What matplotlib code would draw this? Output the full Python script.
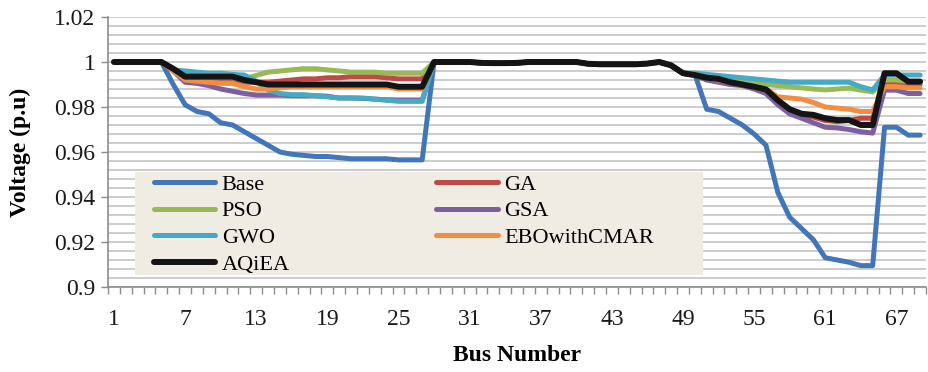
import matplotlib
matplotlib.use("Agg")
import matplotlib.pyplot as plt
from matplotlib.patches import Rectangle
from matplotlib.ticker import FixedLocator, MultipleLocator

buses = list(range(1, 70))

base = [1.0, 1.0, 1.0, 1.0, 1.0, 0.990, 0.981, 0.978, 0.977, 0.973,
        0.972, 0.969, 0.966, 0.963, 0.960, 0.959, 0.9585, 0.958, 0.958, 0.9575,
        0.957, 0.957, 0.957, 0.957, 0.9565, 0.9565, 0.9565, 1.0, 1.0, 1.0,
        1.0, 0.9996, 0.9995, 0.9995, 0.9996, 1.0, 1.0, 1.0, 1.0, 1.0,
        0.9992, 0.999, 0.999, 0.999, 0.999, 0.9993, 1.0, 0.9985, 0.995, 0.9945,
        0.979, 0.978, 0.975, 0.972, 0.968, 0.963, 0.942, 0.931, 0.926, 0.921,
        0.913, 0.912, 0.911, 0.9095, 0.9095, 0.971, 0.971, 0.9675, 0.9675]

ga = [1.0, 1.0, 1.0, 1.0, 1.0, 0.997, 0.993, 0.9925, 0.992, 0.992,
      0.991, 0.991, 0.991, 0.991, 0.9915, 0.992, 0.9925, 0.9925, 0.993, 0.993,
      0.9935, 0.9935, 0.9935, 0.993, 0.9925, 0.9925, 0.9925, 1.0, 1.0, 1.0,
      1.0, 0.9996, 0.9995, 0.9995, 0.9996, 1.0, 1.0, 1.0, 1.0, 1.0,
      0.9992, 0.999, 0.999, 0.999, 0.999, 0.9993, 1.0, 0.9985, 0.995, 0.9942,
      0.993, 0.9925, 0.991, 0.990, 0.989, 0.9875, 0.982, 0.978, 0.9765, 0.9755,
      0.974, 0.9735, 0.974, 0.975, 0.975, 0.991, 0.991, 0.990, 0.990]

pso = [1.0, 1.0, 1.0, 1.0, 1.0, 0.997, 0.994, 0.9935, 0.993, 0.993,
       0.993, 0.9925, 0.994, 0.9955, 0.996, 0.9965, 0.997, 0.997, 0.9965, 0.996,
       0.9955, 0.9955, 0.9955, 0.995, 0.995, 0.995, 0.995, 1.0, 1.0, 1.0,
       1.0, 0.9996, 0.9995, 0.9995, 0.9996, 1.0, 1.0, 1.0, 1.0, 1.0,
       0.9992, 0.999, 0.999, 0.999, 0.999, 0.9993, 1.0, 0.9985, 0.995, 0.995,
       0.994, 0.9935, 0.993, 0.992, 0.991, 0.990, 0.9895, 0.989, 0.9885, 0.988,
       0.9876, 0.988, 0.9884, 0.9875, 0.9867, 0.992, 0.992, 0.9913, 0.9913]

gsa = [1.0, 1.0, 1.0, 1.0, 1.0, 0.996, 0.991, 0.9905, 0.9895, 0.988,
       0.987, 0.986, 0.9853, 0.9853, 0.9853, 0.985, 0.985, 0.985, 0.9848, 0.984,
       0.984, 0.9838, 0.9835, 0.9832, 0.983, 0.983, 0.983, 1.0, 1.0, 1.0,
       1.0, 0.9996, 0.9995, 0.9995, 0.9996, 1.0, 1.0, 1.0, 1.0, 1.0,
       0.9992, 0.999, 0.999, 0.999, 0.999, 0.9993, 1.0, 0.9985, 0.995, 0.994,
       0.992, 0.991, 0.990, 0.9895, 0.988, 0.986, 0.981, 0.977, 0.975, 0.973,
       0.971, 0.9707, 0.970, 0.969, 0.9684, 0.9875, 0.9875, 0.986, 0.986]

gwo = [1.0, 1.0, 1.0, 1.0, 1.0, 0.9965, 0.996, 0.9955, 0.995, 0.995,
       0.9945, 0.9942, 0.9915, 0.9875, 0.986, 0.9855, 0.9855, 0.985, 0.9845, 0.984,
       0.984, 0.984, 0.9835, 0.983, 0.9825, 0.9825, 0.9825, 1.0, 1.0, 1.0,
       1.0, 0.9996, 0.9995, 0.9995, 0.9996, 1.0, 1.0, 1.0, 1.0, 1.0,
       0.9992, 0.999, 0.999, 0.999, 0.999, 0.9993, 1.0, 0.9985, 0.995, 0.995,
       0.9945, 0.994, 0.9935, 0.993, 0.9925, 0.992, 0.9915, 0.991, 0.991, 0.991,
       0.991, 0.991, 0.991, 0.989, 0.9876, 0.9942, 0.9942, 0.9942, 0.9942]

ebo = [1.0, 1.0, 1.0, 1.0, 1.0, 0.996, 0.992, 0.9915, 0.991, 0.9905,
       0.9905, 0.989, 0.988, 0.988, 0.9885, 0.989, 0.989, 0.989, 0.989, 0.989,
       0.989, 0.989, 0.989, 0.989, 0.988, 0.988, 0.988, 1.0, 1.0, 1.0,
       1.0, 0.9996, 0.9995, 0.9995, 0.9996, 1.0, 1.0, 1.0, 1.0, 1.0,
       0.9992, 0.999, 0.999, 0.999, 0.999, 0.9993, 1.0, 0.9985, 0.995, 0.9942,
       0.993, 0.992, 0.991, 0.990, 0.989, 0.988, 0.9845, 0.984, 0.9835, 0.982,
       0.980, 0.9795, 0.979, 0.978, 0.978, 0.989, 0.989, 0.9885, 0.9885]

aqiea = [1.0, 1.0, 1.0, 1.0, 1.0, 0.997, 0.9935, 0.9935, 0.9935, 0.9935,
         0.9935, 0.992, 0.991, 0.990, 0.990, 0.990, 0.990, 0.990, 0.990, 0.990,
         0.990, 0.990, 0.990, 0.990, 0.989, 0.989, 0.989, 1.0, 1.0, 1.0,
         1.0, 0.9996, 0.9995, 0.9995, 0.9996, 1.0, 1.0, 1.0, 1.0, 1.0,
         0.9992, 0.999, 0.999, 0.999, 0.999, 0.9993, 1.0, 0.9985, 0.995, 0.9942,
         0.993, 0.9925, 0.991, 0.990, 0.989, 0.9878, 0.983, 0.979, 0.977, 0.9765,
         0.975, 0.9742, 0.9742, 0.972, 0.972, 0.995, 0.995, 0.9913, 0.9913]

series = [("Base", base, "#4376B8"),
          ("GA", ga, "#BE4B48"),
          ("PSO", pso, "#98B954"),
          ("GSA", gsa, "#7D5FA0"),
          ("GWO", gwo, "#46AAC5"),
          ("EBOwithCMAR", ebo, "#F38D40"),
          ("AQiEA", aqiea, "#141414")]

xtick_labels = [1, 7, 13, 19, 25, 31, 37, 43, 49, 55, 61, 67]
ytick_vals = [0.9, 0.92, 0.94, 0.96, 0.98, 1.0, 1.02]
ytick_text = ["0.9", "0.92", "0.94", "0.96", "0.98", "1", "1.02"]

plt.rcParams['font.family'] = ['Liberation Serif', 'DejaVu Serif']

fig = plt.figure(figsize=(9.29, 3.72), dpi=100)
ax = fig.add_axes([0.1163, 0.2285, 0.8805, 0.7258])

lines = {}
for name, vals, col in series:
    lw = 4.3 if name == "AQiEA" else 3.6
    ln, = ax.plot(buses, vals, color=col, lw=lw, solid_joinstyle='round',
                  solid_capstyle='round', zorder=3)
    lines[name] = ln

ax.set_xlim(0.5, 69.5)
ax.set_ylim(0.9, 1.02)

# grid every 0.004, labels every 0.02
ax.yaxis.set_major_locator(FixedLocator(ytick_vals))
ax.set_yticklabels(ytick_text)
ax.yaxis.set_minor_locator(MultipleLocator(0.004))
ax.grid(True, which='both', axis='y', color='#C8C8C8', lw=1.3, zorder=0)
ax.tick_params(axis='y', which='major', direction='out', length=5, width=1,
               color='#8C8C8C', labelsize=17, pad=4, labelcolor='#1a1a1a')
ax.tick_params(axis='y', which='minor', length=0)

ax.xaxis.set_major_locator(FixedLocator(xtick_labels))
ax.xaxis.set_minor_locator(MultipleLocator(1, offset=0.5))
ax.tick_params(axis='x', which='major', length=0, labelsize=17, pad=16,
               labelcolor='#1a1a1a')
ax.tick_params(axis='x', which='minor', direction='out', length=5, width=1,
               color='#8C8C8C')

for s in ['top', 'right']:
    ax.spines[s].set_visible(False)
for s in ['left', 'bottom']:
    ax.spines[s].set_color('#8C8C8C')
    ax.spines[s].set_linewidth(1.2)

ax.set_xlabel("Bus Number", fontsize=17, fontweight='bold', labelpad=11)
ax.set_ylabel("Voltage (p.u)", fontsize=17, fontweight='bold', labelpad=17)

# legend background box
ax.add_patch(Rectangle((0.033, 0.044), 0.694, 0.382, transform=ax.transAxes,
                       facecolor='#EEECE3', edgecolor='none', zorder=4))

order = ["Base", "PSO", "GWO", "AQiEA", "GA", "GSA", "EBOwithCMAR"]
leg = ax.legend([lines[n] for n in order], order, ncol=2,
                loc='upper left', bbox_to_anchor=(0.056, 0.418),
                fontsize=16, handlelength=2.75, handletextpad=0.3,
                labelspacing=0.28, borderpad=0, borderaxespad=0,
                columnspacing=6.6, frameon=False)
leg.set_zorder(5)

fig.savefig("out.png", dpi=100)
